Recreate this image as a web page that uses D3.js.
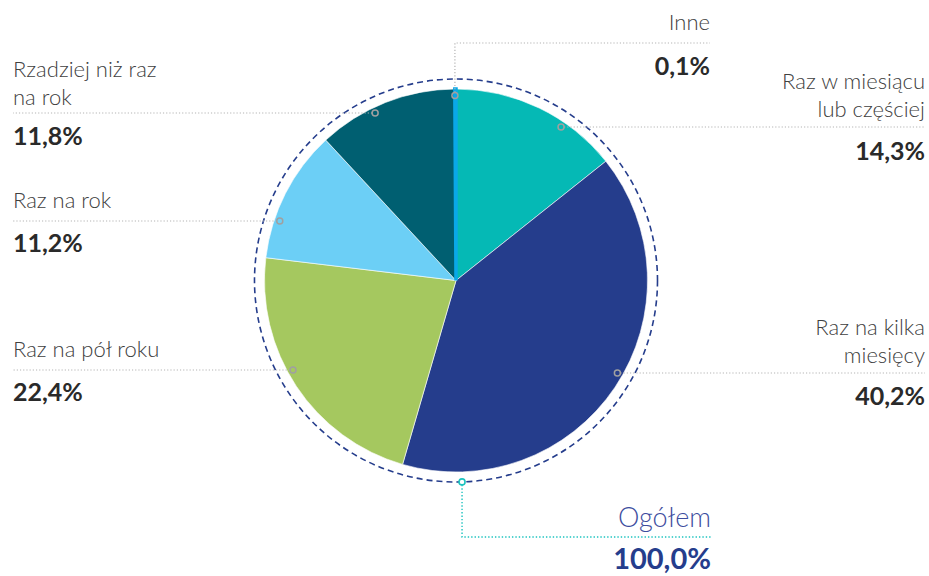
<!DOCTYPE html>
<html lang="pl">
<head>
<meta charset="utf-8">
<script src="https://cdn.jsdelivr.net/npm/d3@7"></script>
<style>
  body { margin: 0; background: #fff; }
  svg text { font-family: "Lato", "Open Sans", sans-serif; }
  .lbl { font-weight: 300; font-size: 22px; fill: #404040; }
  .val { font-weight: 700; font-size: 25px; fill: #2a2a2a; }
  .lead { stroke: #b4b4b4; stroke-width: 1.2; stroke-dasharray: 1.2 2; fill: none; }
  .dot { stroke: #a0a0a0; stroke-width: 1.5; fill: none; }
</style>
</head>
<body>
<svg id="chart" width="929" height="576"></svg>
<script>
// shares of respondents, clockwise from 12 o'clock
const categories = ["Raz w miesiącu\nlub częściej", "Raz na kilka\nmiesięcy", "Raz na pół roku",
                    "Raz na rok", "Rzadziej niż raz\nna rok", "Inne"]
const values = [14.3, 40.2, 22.4, 11.2, 11.8, 0.1]
const valueLabels = ["14,3%", "40,2%", "22,4%", "11,2%", "11,8%", "0,1%"]
const colors = ["#05b9b5", "#253d8c", "#a5c85f", "#6ccff6", "#005f71", "#0aa8e8"]
const total = { label: "Ogółem", value: "100,0%" }

const svg = d3.select("#chart")
const cx = 456, cy = 280.5, r = 191.5

// label layout: side, y of leader line, y of first text line, y of value
const layout = [
  { side: "right", lineY: 127, textY: 89, valY: 160 },
  { side: "right", lineY: 373, textY: 335, valY: 405 },
  { side: "left", lineY: 370, textY: 357, valY: 401 },
  { side: "left", lineY: 221, textY: 208, valY: 252 },
  { side: "left", lineY: 113, textY: 77, valY: 145 },
  { side: "top", lineY: 43, textY: 30, valY: 75 }
]

const pie = d3.pie().sort(null).value(d => d)
const arc = d3.arc().innerRadius(0).outerRadius(r)
const arcs = pie(values)

const g = svg.append("g").attr("transform", `translate(${cx},${cy})`)
g.selectAll("path")
  .data(arcs).enter()
  .append("path")
  .attr("d", arc)
  .attr("fill", (d, i) => colors[i])
  .attr("stroke", (d, i) => d.data < 1 ? colors[i] : "#fff")
  .attr("stroke-width", (d, i) => d.data < 1 ? 3.5 : 0.6)
  .attr("stroke-linejoin", "miter")

// dashed outline
g.append("circle")
  .attr("r", r + 10)
  .attr("fill", "none")
  .attr("stroke", "#253d8c")
  .attr("stroke-width", 1.6)
  .attr("stroke-dasharray", "6 4")

const leftX = 13, rightX = 925, topX = 710
const dotR = 186

layout.forEach((L, i) => {
  const a = arcs[i]
  const lines = categories[i].split("\n")
  let px, py
  if (L.side === "top") {
    const ang = (a.startAngle + a.endAngle) / 2
    px = cx + Math.sin(ang) * dotR - 0.5
    py = cy - Math.cos(ang) * dotR + 1
    svg.append("path").attr("class", "lead")
      .attr("d", `M${px},${py - 3} V${L.lineY} H${topX}`)
  } else {
    const dy = L.lineY - cy
    const dx = Math.sqrt(dotR * dotR - dy * dy)
    px = L.side === "right" ? cx + dx : cx - dx
    py = L.lineY
    const endX = L.side === "right" ? rightX : leftX
    svg.append("line").attr("class", "lead")
      .attr("x1", px + (L.side === "right" ? 3 : -3)).attr("y1", py)
      .attr("x2", endX).attr("y2", py)
  }
  svg.append("circle").attr("class", "dot")
    .attr("cx", px).attr("cy", py).attr("r", 3)

  const tx = L.side === "left" ? leftX : (L.side === "right" ? rightX : topX)
  const anchor = L.side === "left" ? "start" : "end"
  const t = svg.append("text").attr("class", "lbl")
    .attr("x", tx).attr("y", L.textY).attr("text-anchor", anchor)
  lines.forEach((s, k) => {
    t.append("tspan").attr("x", tx).attr("dy", k === 0 ? 0 : 28).text(s)
  })
  svg.append("text").attr("class", "val")
    .attr("x", tx).attr("y", L.valY).attr("text-anchor", anchor)
    .text(valueLabels[i])
})

// total marker at the bottom of the dashed ring
const tAng = Math.PI - 0.03
const tx0 = cx + Math.sin(tAng) * (r + 10), ty0 = cy - Math.cos(tAng) * (r + 10)
svg.append("path")
  .attr("d", `M${tx0},${ty0 + 3} V537 H711`)
  .attr("fill", "none").attr("stroke", "#1cc3bf")
  .attr("stroke-width", 1.4).attr("stroke-dasharray", "1.4 2")
svg.append("circle")
  .attr("cx", tx0).attr("cy", ty0).attr("r", 3)
  .attr("fill", "#fff").attr("stroke", "#1cc3bf").attr("stroke-width", 1.6)
svg.append("text")
  .attr("x", 711).attr("y", 527).attr("text-anchor", "end")
  .style("font-weight", 300).style("font-size", "27px").style("fill", "#3d4d9e")
  .text(total.label)
svg.append("text")
  .attr("x", 711).attr("y", 569).attr("text-anchor", "end")
  .style("font-weight", 700).style("font-size", "29px").style("fill", "#253d8c")
  .text(total.value)
</script>
</body>
</html>
